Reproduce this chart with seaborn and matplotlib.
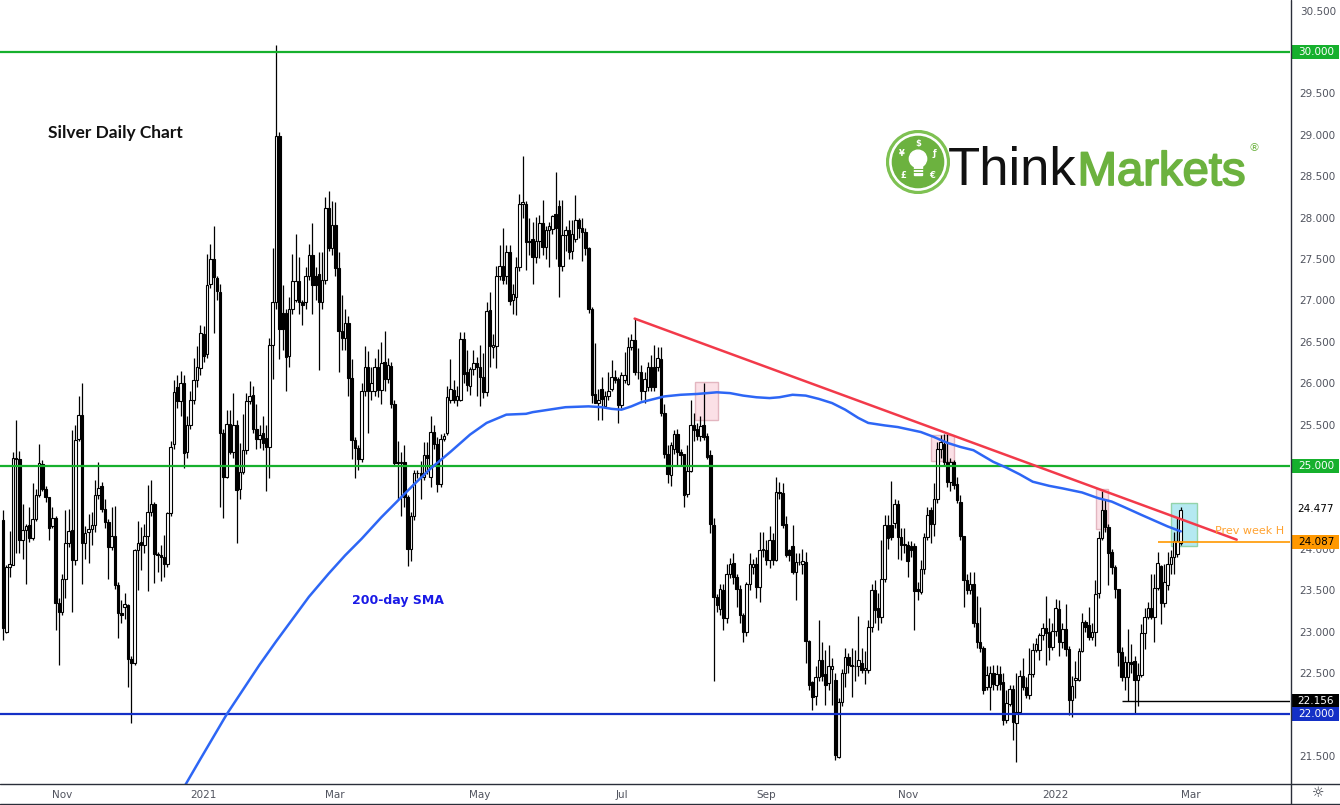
import numpy as np
import pandas as pd
import matplotlib
matplotlib.use("Agg")
import matplotlib.pyplot as plt
import matplotlib.patheffects as pe
import seaborn as sns
from matplotlib.patches import Rectangle, Circle
from matplotlib.lines import Line2D
import matplotlib.transforms as mtransforms
from pandas.tseries.offsets import CustomBusinessDay

# ---------------- data (daily silver candles) ----------------
last_date = "2022-02-24"
holidays = ["2020-12-25", "2021-01-01", "2021-04-02"]

opens = [
    24.35, 23.00, 23.78, 23.80, 25.10, 25.08, 24.11, 24.23, 24.29, 24.13,
    24.36, 24.65, 25.02, 24.72, 24.62, 24.27, 24.37, 23.34, 23.24, 23.63,
    24.07, 24.23, 23.86, 25.33, 25.62, 24.07, 24.20, 24.24, 24.29, 24.65,
    24.76, 24.48, 24.32, 24.02, 24.15, 23.56, 23.22, 23.30, 23.32, 22.67,
    22.62, 23.99, 24.08, 24.04, 24.16, 24.44, 24.54, 23.94, 23.92, 23.90,
    23.82, 24.43, 25.26, 25.95, 25.78, 26.00, 25.17, 25.50, 25.80, 26.04,
    26.18, 26.59, 26.35, 27.20, 27.50, 27.27, 27.10, 25.40, 24.87, 25.51,
    25.17, 25.49, 24.72, 24.93, 25.19, 25.79, 25.86, 25.45, 25.32, 25.40,
    25.34, 25.23, 26.46, 26.98, 28.99, 26.85, 26.85, 26.33, 26.89, 27.00,
    27.24, 26.98, 26.98, 27.30, 27.55, 27.30, 27.32, 26.98, 27.25, 28.11,
    27.63, 27.91, 27.39, 26.63, 26.55, 26.73, 26.06, 25.31, 25.22, 25.09,
    25.90, 26.19, 25.90, 25.90, 26.20, 25.92, 26.26, 26.05, 26.21, 25.75,
    25.05, 25.03, 25.05, 24.63, 24.00, 24.39, 24.91, 24.92, 24.87, 25.13,
    24.87, 25.41, 25.27, 24.78, 25.32, 25.40, 25.80, 25.92, 25.80, 25.80,
    26.53, 26.14, 25.96, 26.17, 26.24, 26.19, 26.08, 25.89, 26.88, 26.44,
    26.45, 27.29, 27.41, 27.29, 27.59, 27.00, 27.04, 27.40, 28.17, 28.16,
    27.72, 27.74, 27.52, 27.72, 27.93, 27.64, 27.85, 27.86, 28.04, 28.14,
    27.42, 27.79, 27.85, 27.60, 27.74, 27.97, 27.88, 27.82, 27.63, 26.90,
    25.87, 25.76, 25.93, 25.72, 25.84, 25.93, 26.07, 26.05, 25.74, 26.04,
    25.99, 26.44, 26.52, 26.14, 26.14, 25.90, 25.95, 26.19, 26.20, 26.20,
    26.29, 25.64, 25.14, 24.89, 25.20, 25.39, 25.17, 25.14, 24.66, 24.94,
    25.49, 25.45, 25.36, 25.49, 25.36, 25.13, 24.29, 23.42, 23.27, 23.50,
    23.16, 23.70, 23.83, 23.66, 23.52, 23.20, 23.00, 23.57, 23.78, 23.82,
    23.54, 23.99, 23.99, 23.87, 24.11, 23.87, 24.68, 24.67, 24.30, 23.98,
    24.03, 23.72, 23.84, 23.82, 23.84, 22.89, 22.39, 22.22, 22.45, 22.66,
    22.49, 22.38, 22.55, 22.42, 21.49, 22.15, 22.50, 22.69, 22.60, 22.59,
    22.58, 22.62, 22.54, 22.54, 23.06, 23.50, 23.28, 23.17, 23.63, 24.29,
    24.29, 24.31, 24.54, 24.14, 24.06, 24.05, 24.03, 24.03, 23.52, 23.48,
    23.76, 24.14, 24.47, 24.30, 24.60, 25.21, 25.27, 25.05, 24.81, 25.05,
    24.78, 24.57, 24.15, 23.62, 23.50, 23.57, 23.10, 22.88, 22.80, 22.33,
    22.33, 22.50, 22.36, 22.49, 22.39, 21.93, 22.13, 22.31, 21.89, 22.03,
    22.46, 22.33, 22.23, 22.49, 22.78, 22.78, 22.96, 23.04, 23.00, 22.81,
    23.01, 23.27, 22.87, 23.03, 22.79, 22.17, 22.42, 22.42, 22.77, 23.12,
    23.08, 22.93, 23.00, 23.46, 24.13, 24.47, 24.26, 23.96, 23.78, 23.51,
    22.75, 22.45, 22.45, 22.63, 22.65, 22.41, 22.48, 22.98, 23.18, 23.29,
    23.18, 23.53, 23.79, 23.34, 23.56, 23.82, 23.90, 23.94, 24.07,
]
highs = [
    24.47, 23.80, 24.21, 25.17, 25.56, 25.18, 24.54, 24.30, 24.50, 24.80,
    24.72, 25.27, 25.07, 24.76, 24.62, 24.51, 24.40, 23.40, 23.70, 24.47,
    24.48, 25.43, 25.50, 25.84, 26.00, 24.27, 24.42, 24.44, 24.83, 25.05,
    24.81, 24.60, 24.36, 24.50, 24.52, 23.60, 23.38, 23.46, 23.33, 22.70,
    24.00, 24.34, 24.26, 24.30, 24.77, 24.83, 24.56, 23.96, 24.05, 24.17,
    24.45, 25.30, 26.04, 26.10, 26.15, 26.10, 25.60, 25.90, 26.30, 26.45,
    26.70, 26.69, 27.56, 27.68, 27.90, 27.30, 27.20, 25.45, 25.68, 25.68,
    25.88, 25.55, 25.28, 25.63, 25.88, 26.03, 25.96, 25.75, 25.50, 25.60,
    25.50, 26.54, 27.63, 30.08, 29.03, 27.18, 26.90, 27.04, 27.56, 27.80,
    27.52, 27.00, 27.40, 27.68, 27.93, 27.40, 27.58, 27.58, 28.25, 28.32,
    28.20, 28.19, 27.58, 27.06, 26.90, 26.81, 26.29, 25.35, 25.25, 26.00,
    26.45, 26.39, 26.20, 26.30, 26.41, 26.50, 26.63, 26.30, 26.25, 25.80,
    25.30, 25.17, 25.25, 24.65, 24.45, 24.95, 24.95, 25.06, 25.29, 25.29,
    25.60, 25.49, 25.35, 25.39, 25.40, 25.96, 26.29, 26.04, 25.96, 26.62,
    26.62, 26.40, 26.20, 26.40, 26.32, 26.46, 26.36, 26.98, 27.10, 26.60,
    27.41, 27.67, 27.87, 27.67, 27.67, 27.20, 27.53, 28.29, 28.74, 28.20,
    27.99, 27.95, 28.01, 28.03, 28.21, 27.90, 27.95, 28.03, 28.55, 28.21,
    28.21, 27.90, 27.97, 27.97, 28.27, 28.00, 28.00, 27.87, 27.65, 26.92,
    26.48, 25.93, 26.08, 25.90, 26.14, 26.28, 26.16, 26.08, 26.14, 26.38,
    26.56, 26.60, 26.77, 26.42, 26.22, 26.13, 26.26, 26.34, 26.46, 26.44,
    26.44, 25.75, 25.25, 25.29, 25.43, 25.45, 25.20, 25.15, 25.25, 25.80,
    25.64, 25.52, 25.60, 26.00, 25.40, 25.19, 24.37, 23.45, 23.58, 23.58,
    23.82, 23.89, 23.95, 23.70, 23.56, 23.22, 23.60, 23.95, 23.88, 23.90,
    24.20, 24.20, 24.10, 24.27, 24.19, 24.87, 24.81, 24.80, 24.40, 24.00,
    24.29, 23.95, 23.95, 24.00, 23.96, 22.90, 22.40, 22.58, 23.14, 22.88,
    22.78, 22.84, 22.68, 22.50, 22.20, 22.55, 22.80, 22.74, 22.80, 22.78,
    23.19, 22.80, 22.76, 23.14, 23.58, 23.62, 23.46, 24.10, 24.41, 24.41,
    24.82, 24.60, 24.59, 24.25, 24.25, 24.09, 24.09, 24.07, 23.60, 23.87,
    24.19, 24.51, 24.51, 24.79, 25.29, 25.37, 25.39, 25.39, 25.10, 25.07,
    24.87, 24.65, 24.15, 23.70, 23.72, 23.72, 23.43, 23.30, 22.82, 22.58,
    22.58, 22.60, 22.60, 22.58, 22.50, 22.30, 22.35, 22.35, 22.50, 22.53,
    22.68, 22.45, 22.80, 22.86, 22.92, 22.98, 23.10, 23.43, 23.16, 23.10,
    23.39, 23.38, 23.10, 23.33, 22.82, 22.46, 22.65, 22.80, 23.22, 23.14,
    23.30, 23.10, 23.62, 24.21, 24.70, 24.59, 24.30, 24.00, 23.80, 23.52,
    22.81, 22.70, 23.03, 22.85, 22.70, 22.62, 23.09, 23.29, 23.36, 23.70,
    23.70, 23.96, 23.80, 23.82, 23.96, 23.98, 24.20, 24.37, 24.50,
]
lows = [
    22.90, 22.98, 23.66, 23.80, 23.95, 23.95, 23.88, 23.58, 24.08, 24.10,
    24.34, 24.63, 24.70, 24.57, 24.11, 24.25, 23.02, 22.60, 23.20, 23.40,
    24.02, 23.24, 23.80, 25.30, 23.58, 23.88, 23.83, 24.05, 24.20, 24.60,
    24.45, 24.25, 23.64, 23.98, 23.52, 22.92, 23.10, 23.15, 22.33, 21.89,
    22.60, 23.50, 23.74, 23.95, 23.49, 24.40, 23.59, 23.72, 23.61, 23.66,
    23.78, 24.40, 25.20, 25.70, 25.60, 24.98, 25.10, 25.45, 25.75, 25.95,
    26.10, 26.25, 26.30, 27.15, 26.61, 27.00, 24.50, 24.37, 24.85, 25.15,
    25.10, 24.07, 24.60, 24.90, 25.15, 25.75, 25.40, 25.20, 25.22, 25.19,
    24.70, 24.86, 26.05, 26.90, 26.29, 26.40, 25.90, 26.20, 26.83, 26.98,
    26.83, 26.70, 26.90, 27.25, 26.83, 27.00, 26.16, 26.90, 27.20, 27.60,
    27.55, 27.30, 26.14, 26.40, 26.40, 25.84, 25.08, 24.85, 24.95, 25.05,
    25.85, 25.40, 25.80, 25.85, 25.83, 25.75, 25.90, 26.00, 25.70, 25.00,
    24.60, 24.40, 24.50, 23.79, 23.85, 24.35, 24.85, 24.60, 24.83, 24.90,
    24.75, 25.20, 24.69, 24.75, 25.30, 25.38, 25.76, 25.76, 25.72, 25.78,
    26.00, 25.90, 25.86, 26.10, 25.84, 25.72, 25.82, 25.85, 26.20, 26.30,
    26.18, 27.25, 27.20, 27.20, 26.95, 26.84, 26.82, 27.35, 28.00, 27.37,
    27.55, 27.20, 27.45, 27.51, 27.55, 27.50, 27.40, 27.80, 27.50, 27.04,
    27.35, 27.60, 27.50, 27.50, 27.70, 27.75, 27.47, 27.55, 26.85, 25.76,
    25.76, 25.56, 25.56, 25.70, 25.80, 25.90, 26.00, 25.52, 25.70, 26.00,
    25.98, 26.40, 26.10, 26.05, 25.80, 25.76, 25.90, 25.90, 25.90, 26.15,
    25.60, 25.10, 24.80, 24.76, 25.15, 25.00, 25.00, 24.50, 24.62, 24.93,
    25.30, 25.31, 25.30, 25.31, 25.08, 24.19, 22.40, 23.24, 23.20, 23.02,
    23.10, 23.65, 23.58, 23.30, 23.10, 22.88, 22.95, 23.50, 23.70, 23.40,
    23.36, 23.90, 23.80, 23.77, 23.80, 23.85, 24.60, 24.25, 23.90, 23.85,
    23.70, 23.38, 23.80, 23.70, 22.62, 22.30, 22.05, 22.11, 22.40, 22.40,
    22.11, 22.30, 22.11, 21.45, 21.47, 22.10, 22.33, 22.50, 22.21, 22.40,
    22.46, 22.50, 22.37, 22.50, 23.00, 23.10, 23.02, 23.10, 23.60, 24.00,
    24.10, 24.25, 23.88, 23.87, 23.95, 23.66, 23.90, 23.02, 23.38, 23.45,
    23.70, 24.10, 24.07, 24.15, 24.55, 25.10, 25.00, 24.75, 24.70, 24.72,
    24.55, 24.10, 23.30, 23.45, 23.45, 23.05, 22.80, 22.75, 22.25, 22.30,
    22.05, 22.30, 22.30, 22.30, 21.87, 21.90, 22.10, 21.69, 21.43, 22.00,
    22.30, 22.20, 22.19, 22.45, 22.75, 22.66, 22.90, 22.60, 22.66, 22.78,
    22.95, 22.70, 22.80, 22.70, 21.99, 21.97, 22.20, 22.40, 22.75, 23.00,
    22.90, 22.90, 22.83, 23.40, 24.10, 24.20, 23.56, 23.70, 23.40, 22.58,
    22.40, 22.30, 22.16, 22.50, 22.01, 22.10, 22.45, 22.79, 23.15, 23.15,
    22.87, 23.50, 23.09, 23.30, 23.50, 23.70, 23.70, 23.90, 24.04,
]
closes = [
    23.04, 23.78, 23.82, 25.10, 25.08, 24.11, 24.23, 24.28, 24.13, 24.36,
    24.65, 25.03, 24.72, 24.62, 24.25, 24.37, 23.34, 23.24, 23.63, 24.07,
    24.21, 23.86, 25.31, 25.62, 24.07, 24.19, 24.24, 24.29, 24.65, 24.74,
    24.48, 24.32, 24.02, 24.15, 23.56, 23.22, 23.20, 23.33, 22.67, 22.62,
    23.99, 24.07, 24.04, 24.16, 24.44, 24.54, 23.94, 23.92, 23.90, 23.82,
    24.43, 25.23, 25.89, 25.78, 26.00, 25.16, 25.50, 25.80, 26.04, 26.20,
    26.61, 26.33, 27.19, 27.50, 27.28, 27.11, 25.40, 24.87, 25.51, 25.17,
    25.49, 24.71, 24.93, 25.19, 25.79, 25.84, 25.45, 25.32, 25.38, 25.28,
    25.23, 26.46, 26.98, 28.99, 26.65, 26.65, 26.32, 26.89, 27.24, 27.24,
    26.98, 26.95, 27.30, 27.55, 27.19, 27.19, 26.98, 27.25, 28.11, 27.63,
    27.91, 27.39, 26.63, 26.55, 26.73, 26.06, 25.31, 25.22, 25.09, 25.90,
    26.19, 25.90, 26.00, 26.20, 25.92, 26.24, 26.05, 26.22, 25.75, 25.04,
    25.03, 25.05, 24.63, 24.00, 24.39, 24.91, 24.92, 24.87, 25.13, 25.10,
    25.41, 25.26, 24.78, 25.32, 25.36, 25.83, 25.93, 25.80, 25.84, 26.53,
    26.11, 25.98, 26.17, 26.24, 26.20, 26.08, 25.89, 26.87, 26.45, 26.46,
    27.29, 27.42, 27.25, 27.59, 26.99, 27.08, 27.40, 28.17, 28.19, 27.71,
    27.70, 27.52, 27.72, 27.93, 27.65, 27.85, 27.90, 28.02, 27.87, 27.42,
    27.79, 27.85, 27.59, 27.80, 27.97, 27.88, 27.82, 27.63, 26.90, 25.86,
    25.76, 25.80, 25.81, 25.84, 25.90, 26.07, 26.04, 25.74, 26.10, 26.10,
    26.44, 26.52, 26.13, 26.13, 25.90, 26.05, 26.19, 25.95, 25.95, 26.31,
    25.64, 25.14, 24.90, 25.25, 25.39, 25.17, 25.13, 24.65, 24.94, 25.49,
    25.44, 25.36, 25.48, 25.35, 25.11, 24.30, 23.42, 23.32, 23.52, 23.16,
    23.70, 23.82, 23.66, 23.51, 23.20, 23.00, 23.57, 23.82, 23.82, 23.54,
    23.99, 24.00, 23.87, 24.11, 23.87, 24.68, 24.67, 24.29, 23.92, 23.92,
    23.72, 23.84, 23.84, 23.85, 22.89, 22.35, 22.21, 22.45, 22.66, 22.46,
    22.36, 22.59, 22.59, 21.51, 22.15, 22.50, 22.69, 22.60, 22.58, 22.58,
    22.66, 22.54, 22.56, 23.06, 23.50, 23.26, 23.17, 23.63, 24.29, 24.13,
    24.14, 24.54, 24.14, 24.05, 24.04, 23.85, 23.98, 23.49, 23.49, 23.76,
    24.14, 24.41, 24.30, 24.60, 25.21, 25.29, 25.05, 24.81, 25.05, 24.77,
    24.59, 24.15, 23.62, 23.50, 23.57, 23.10, 22.87, 22.80, 22.29, 22.47,
    22.50, 22.37, 22.49, 22.37, 21.93, 22.14, 22.31, 21.91, 22.03, 22.46,
    22.33, 22.23, 22.49, 22.78, 22.85, 22.96, 23.04, 22.98, 22.81, 23.01,
    23.28, 22.87, 23.03, 22.79, 22.17, 22.34, 22.44, 22.77, 23.12, 23.05,
    22.93, 23.00, 23.45, 24.13, 24.47, 24.26, 23.95, 23.78, 23.51, 22.75,
    22.45, 22.63, 22.63, 22.61, 22.41, 22.48, 22.98, 23.18, 23.29, 23.18,
    23.53, 23.83, 23.34, 23.60, 23.82, 23.90, 24.09, 24.09, 24.47,
]

# 200-day simple moving average, sampled at bar positions
sma_bar = [54, 60, 64, 68, 73, 78, 83, 88, 93, 99, 104, 109, 115, 121, 125, 130,
           136, 142, 147, 153, 159, 161, 166, 171, 178, 182, 185, 188, 191, 194,
           198, 201, 206, 211, 217, 221, 225, 229, 233, 236, 240, 244, 248, 252,
           256, 260, 263, 268, 272, 279, 283, 287, 291, 295, 298, 301, 305, 309,
           313, 318, 322, 328, 333, 337, 341, 346, 350, 354, 358]
sma_val = [21.05, 21.46, 21.73, 22.00, 22.30, 22.60, 22.88, 23.15, 23.42, 23.70,
           23.92, 24.12, 24.38, 24.62, 24.78, 24.97, 25.17, 25.38, 25.52, 25.62,
           25.63, 25.65, 25.68, 25.71, 25.72, 25.71, 25.69, 25.68, 25.72, 25.77,
           25.81, 25.84, 25.86, 25.87, 25.89, 25.88, 25.85, 25.83, 25.82, 25.83,
           25.86, 25.85, 25.81, 25.76, 25.68, 25.58, 25.52, 25.49, 25.47, 25.41,
           25.35, 25.28, 25.23, 25.19, 25.12, 25.05, 24.98, 24.90, 24.81, 24.76,
           24.73, 24.68, 24.61, 24.57, 24.50, 24.41, 24.34, 24.27, 24.21]

# drawn annotations
trend_bar = [192, 375]
trend_val = [26.78, 24.11]
green_levels = [30.0, 25.0]
blue_level = 22.0
prev_week_high = 24.087
prev_week_from = 351
swing_low = 22.156
swing_low_from = 340
last_price = 24.477
pink_boxes = [(210.4, 217.4, 25.55, 26.01), (282.1, 289.1, 25.06, 25.38), (332.1, 336.0, 24.24, 24.72)]
cyan_box = (355.1, 363.0, 24.03, 24.55)
price_ticks = [21.5 + 0.5 * k for k in range(19)]

# ---------------- figure ----------------
sns.set_theme(style="white")
plt.rcParams["font.family"] = ["DejaVu Sans"]

O = np.array(opens); Hh = np.array(highs); L = np.array(lows); C = np.array(closes)
N = len(C)
assert len(O) == N and len(Hh) == N and len(L) == N
Hh = np.maximum(Hh, np.maximum(O, C))
L = np.minimum(L, np.minimum(O, C))
idx = np.arange(N)

cbd = CustomBusinessDay(holidays=holidays)
dates = pd.date_range(end=last_date, periods=N, freq=cbd)
future = pd.date_range(start=dates[-1] + cbd, periods=40, freq=cbd)
all_dates = dates.append(future)
tick_pos, tick_lab = [], []
for k in range(1, len(all_dates)):
    d, p = all_dates[k], all_dates[k - 1]
    if d.month != p.month and d.month in (1, 3, 5, 7, 9, 11):
        tick_pos.append(k)
        tick_lab.append(str(d.year) if d.month == 1 else d.strftime("%b"))

W, H = 1340, 805
fig = plt.figure(figsize=(W / 100, H / 100), dpi=100)
fig.patch.set_facecolor("white")
ax = fig.add_axes([0, 21 / H, 1290 / W, 784 / H])
ax.set_facecolor("white")
XMIN, XMAX = -0.9, 391.2
ax.set_xlim(XMIN, XMAX)
ax.set_ylim(21.159, 30.628)

# highlight boxes (behind candles)
for (x0, x1, y0, y1) in pink_boxes:
    ax.add_patch(Rectangle((x0, y0), x1 - x0, y1 - y0, facecolor="#fbe0e6",
                           edgecolor="#e3b6c0", lw=1.0, zorder=1))
x0, x1, y0, y1 = cyan_box
ax.add_patch(Rectangle((x0, y0), x1 - x0, y1 - y0, facecolor="#b4e9f1",
                       edgecolor="#93d3a9", lw=1.0, zorder=1))

# candles
up = C >= O
ax.vlines(idx, L, Hh, color="black", lw=0.9, zorder=3)
ax.bar(idx[up], (C - O)[up], bottom=O[up], width=0.78, color="white",
       edgecolor="black", linewidth=0.8, zorder=4)
ax.bar(idx[~up], (O - C)[~up], bottom=C[~up], width=0.78, color="black",
       edgecolor="black", linewidth=0.8, zorder=4)

# levels
for lv in green_levels:
    ax.axhline(lv, color="#16b02d", lw=1.6, zorder=5)
ax.axhline(blue_level, color="#1430c6", lw=1.6, zorder=5)
ax.hlines(prev_week_high, prev_week_from, XMAX, color="#ff9800", lw=1.2, zorder=5)
ax.hlines(swing_low, swing_low_from, XMAX, color="black", lw=1.0, zorder=5)

# SMA and trendline
sns.lineplot(x=sma_bar, y=sma_val, ax=ax, color="#2d66f5", lw=1.8, zorder=6)
ax.plot(trend_bar, trend_val, color="#f23a4a", lw=1.8, zorder=7, solid_capstyle="round")

ax.text(368.4, 24.21, "Prev week H", color="#ffa230", fontsize=8, va="center",
        ha="left", zorder=8)
ax.text(106, 23.38, "200-day SMA", color="#1a1ae6", fontsize=9, fontweight="bold",
        va="center", ha="left", zorder=8)

# axes styling
ax.yaxis.tick_right()
ax.set_yticks(price_ticks)
ax.set_yticklabels([f"{v:.3f}" for v in price_ticks])
ax.tick_params(axis="y", length=0, pad=7, labelsize=7.5, labelcolor="#50535e")
ax.set_xticks(tick_pos)
ax.set_xticklabels(tick_lab)
ax.tick_params(axis="x", length=0, pad=4, labelsize=7.5, labelcolor="#50535e")
ax.grid(False)
for s in ["top", "left", "right", "bottom"]:
    ax.spines[s].set_visible(False)
ax.set_xlabel("")
ax.set_ylabel("")
if ax.get_legend():
    ax.get_legend().remove()

# separators / borders
fig.add_artist(Line2D([1290.5 / W, 1290.5 / W], [0, 1], color="#2a2e39", lw=1.0))
fig.add_artist(Line2D([0, 1], [21 / H, 21 / H], color="#2a2e39", lw=1.0))
fig.add_artist(Line2D([0, 1], [0.6 / H, 0.6 / H], color="#2a2e39", lw=1.0))

# price label boxes on the axis strip
blend = mtransforms.blended_transform_factory(fig.transFigure, ax.transData)
bh = 14 / 82.8
labels = [
    (30.0, "30.000", "#16b02d", "white"),
    (25.0, "25.000", "#16b02d", "white"),
    (last_price, f"{last_price:.3f}", "white", "black"),
    (prev_week_high, f"{prev_week_high:.3f}", "#ff9800", "black"),
    (swing_low, f"{swing_low:.3f}", "black", "white"),
    (blue_level, "22.000", "#1430c6", "white"),
]
for p, t, bg, fg in labels:
    r = Rectangle((1291 / W, p - bh / 2), 48 / W, bh, transform=blend,
                  facecolor=bg, edgecolor="none", clip_on=False, zorder=10)
    ax.add_patch(r)
    ax.text(1316 / W, p, t, transform=blend, color=fg, fontsize=7.5,
            ha="center", va="center", clip_on=False, zorder=11)

fig.text(1318 / W, (H - 793) / H, "\u263c", ha="center", va="center",
         fontsize=10, color="#2a2e39")

# title
fig.text(48 / W, (H - 133) / H, "Silver Daily Chart", fontsize=12.5,
         fontweight="bold", family=["Lato", "DejaVu Sans"], color="#111111",
         ha="left", va="center")

# logo
green = "#6cb23f"
lax = fig.add_axes([(918 - 32) / W, (H - 162 - 32) / H, 64 / W, 64 / H])
lax.set_xlim(-1, 1); lax.set_ylim(-1, 1); lax.axis("off")
lax.add_patch(Circle((0, 0), 0.98, color="#7ec152"))
lax.add_patch(Circle((0, 0), 0.88, color="white"))
lax.add_patch(Circle((0, 0), 0.80, color=green))
lax.add_patch(Circle((0, 0.1), 0.27, color="white"))
lax.add_patch(Rectangle((-0.13, -0.42), 0.26, 0.3, color="white"))
for yy in (-0.22, -0.32):
    lax.plot([-0.15, 0.15], [yy, yy], color=green, lw=0.8)
for (sx, sy, s) in [(0, 0.58, "$"), (-0.5, 0.25, "\u00a5"), (0.5, 0.25, "\u0192"),
                    (-0.45, -0.42, "\u00a3"), (0.45, -0.42, "\u20ac")]:
    lax.text(sx, sy, s, color="white", fontsize=6, fontweight="bold",
             ha="center", va="center")

renderer = fig.canvas.get_renderer()
t1 = fig.text(948 / W, (H - 185) / H, "Think", fontsize=38, color="#111111",
              family=["Liberation Sans", "DejaVu Sans"], ha="left", va="baseline")
bb = t1.get_window_extent(renderer=renderer)
t2 = fig.text((bb.x1 + 1) / W, (H - 185) / H, "Markets", fontsize=34, color=green,
              family=["Liberation Sans", "DejaVu Sans"], ha="left", va="baseline",
              path_effects=[pe.withStroke(linewidth=1.3, foreground=green)])
bb2 = t2.get_window_extent(renderer=renderer)
fig.text((bb2.x1 + 8) / W, (H - 148) / H, "\u00ae", fontsize=8, color=green,
         ha="center", va="center")

fig.savefig("out.png", dpi=100, facecolor="white")
